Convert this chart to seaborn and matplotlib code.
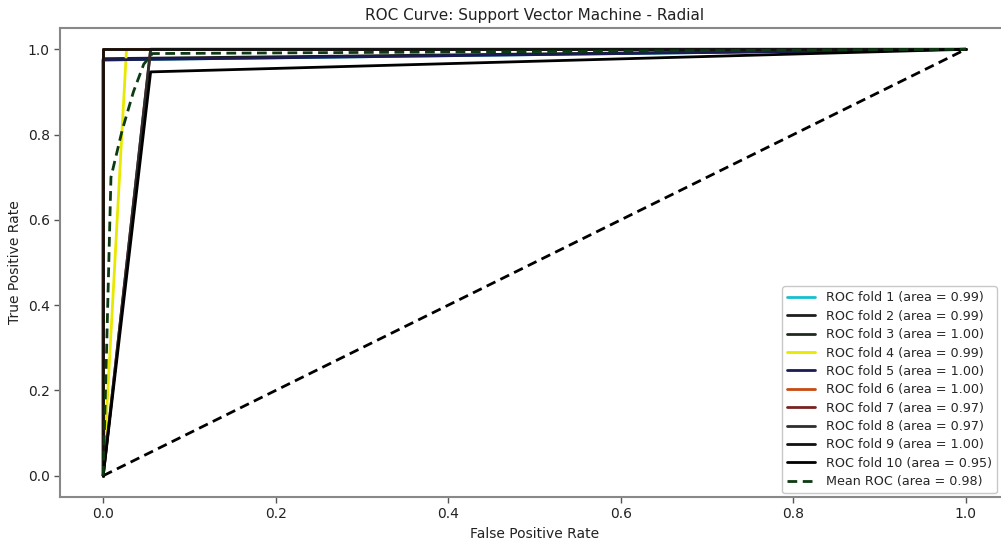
import matplotlib
matplotlib.use("Agg")
import matplotlib.pyplot as plt
import seaborn as sns
import pandas as pd

sns.set_style("white")
plt.rcParams['font.family'] = ['DejaVu Sans']

fold_labels = ["ROC fold 1 (area = 0.99)", "ROC fold 2 (area = 0.99)", "ROC fold 3 (area = 1.00)",
               "ROC fold 4 (area = 0.99)", "ROC fold 5 (area = 1.00)", "ROC fold 6 (area = 1.00)",
               "ROC fold 7 (area = 0.97)", "ROC fold 8 (area = 0.97)", "ROC fold 9 (area = 1.00)",
               "ROC fold 10 (area = 0.95)"]
fold_colors = ["#17becf", "#1e1e1e", "#1f2a1f", "#e8e800", "#1a1a55", "#c84a10",
               "#7a2222", "#2e2e2e", "#111111", "#000000"]
fold_fpr = [
    [0, 0, 1],
    [0, 0, 1],
    [0, 0, 1],
    [0, 0.027, 1],
    [0, 0, 1],
    [0, 0, 1],
    [0, 0.055, 1],
    [0, 0.055, 1],
    [0, 0, 1],
    [0, 0.055, 1],
]
fold_tpr = [
    [0, 0.975, 1],
    [0, 0.978, 1],
    [0, 1, 1],
    [0, 1, 1],
    [0, 0.975, 1],
    [0, 1, 1],
    [0, 1, 1],
    [0, 1, 1],
    [0, 1, 1],
    [0, 0.947, 1],
]
mean_fpr = [0, 0.004, 0.009, 0.022, 0.035, 0.047, 0.057, 1.0]
mean_tpr = [0, 0.30, 0.70, 0.81, 0.90, 0.965, 0.99, 1.0]
mean_label = "Mean ROC (area = 0.98)"
chance = [0, 1]

fig = plt.figure(figsize=(10.01, 5.41), dpi=100)
ax = fig.add_axes([0.06, 0.0813, 0.948, 0.867])

for lab, col, fx, ty in zip(fold_labels, fold_colors, fold_fpr, fold_tpr):
    df = pd.DataFrame({"fpr": fx, "tpr": ty})
    sns.lineplot(data=df, x="fpr", y="tpr", sort=False, estimator=None, color=col, lw=2,
                 label=lab, ax=ax)

sns.lineplot(x=chance, y=chance, sort=False, estimator=None, color="black", lw=2, ax=ax, legend=False)
ax.lines[-1].set_linestyle((0, (3.5, 2)))
dfm = pd.DataFrame({"fpr": mean_fpr, "tpr": mean_tpr})
sns.lineplot(data=dfm, x="fpr", y="tpr", sort=False, estimator=None, color="#0d3a12", lw=2,
             label=mean_label, ax=ax)
ax.lines[-1].set_linestyle((0, (3.5, 2)))

ax.set_xlim(-0.05, 1.05)
ax.set_ylim(-0.05, 1.05)
ax.set_xticks([0, 0.2, 0.4, 0.6, 0.8, 1.0])
ax.set_yticks([0, 0.2, 0.4, 0.6, 0.8, 1.0])
ax.tick_params(axis="both", which="both", length=4, width=1, color="#555555", labelsize=10,
               bottom=True, left=True, labelcolor="#222222")
for s in ax.spines.values():
    s.set_color("#888888")
    s.set_linewidth(1.5)
ax.set_xlabel("False Positive Rate", fontsize=10, color="#222222")
ax.set_ylabel("True Positive Rate", fontsize=10, color="#222222")
ax.set_title("ROC Curve: Support Vector Machine - Radial", fontsize=11, color="#222222")

handles, labels = ax.get_legend_handles_labels()
leg = ax.legend(handles, labels, loc="lower right", bbox_to_anchor=(0.987, 0.008), borderaxespad=0,
                fontsize=9.2, frameon=True, handlelength=2.2, labelspacing=0.42)
leg.get_frame().set_edgecolor("#bbbbbb")
leg.legend_handles[-1].set_linestyle((0, (3.5, 2)))

fig.savefig("out.png", dpi=100)
